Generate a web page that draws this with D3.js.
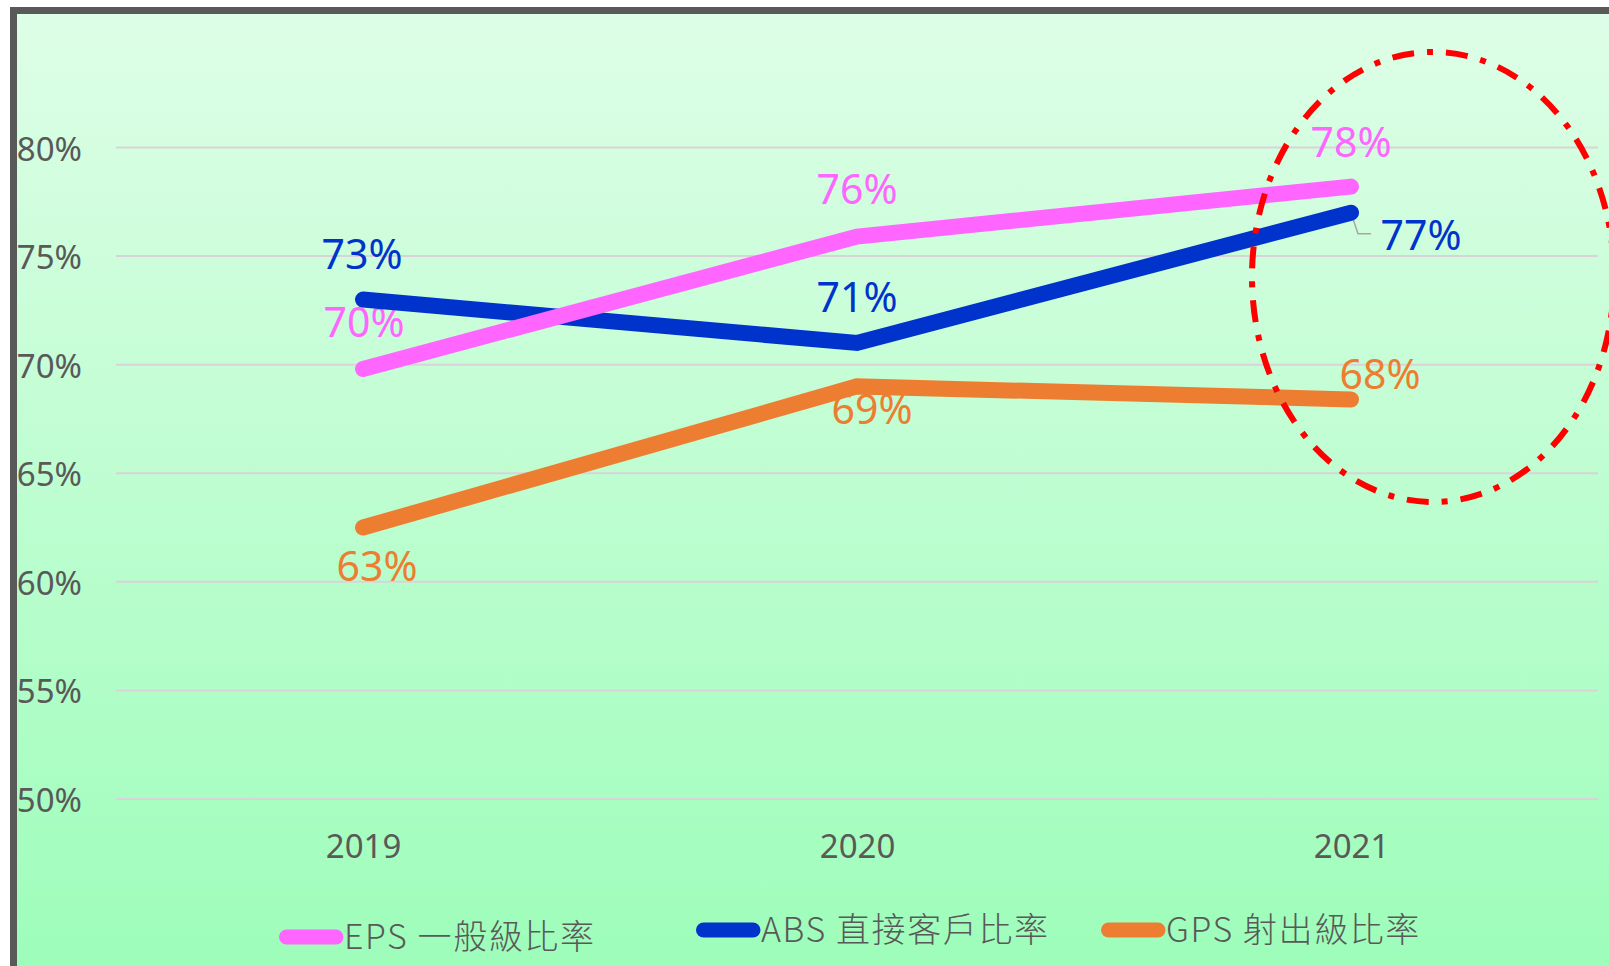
<!DOCTYPE html>
<html>
<head>
<meta charset="utf-8">
<script src="https://cdn.jsdelivr.net/npm/d3@7"></script>
<style>
  body { margin: 0; background: #ffffff; }
  svg { display: block; }
</style>
</head>
<body>
<svg id="chart" width="1609" height="966"></svg>
<script>
// chart data
const years = ["2019", "2020", "2021"];
const seriesNames = ["EPS 一般級比率", "ABS 直接客戶比率", "GPS 射出級比率"];
const epsValues = [69.8, 75.9, 78.2];
const absValues = [73.0, 71.0, 77.0];
const gpsValues = [62.5, 69.0, 68.4];
const epsLabels = ["70%", "76%", "78%"];
const absLabels = ["73%", "71%", "77%"];
const gpsLabels = ["63%", "69%", "68%"];
const yTicks = [50, 55, 60, 65, 70, 75, 80];

const colors = { eps: "#ff66ff", abs: "#0033cc", gps: "#ed7d31" };

const svg = d3.select("#chart");

// background gradient
const defs = svg.append("defs");
const grad = defs.append("linearGradient")
    .attr("id", "bg")
    .attr("x1", 0).attr("y1", 0).attr("x2", 0).attr("y2", 1);
grad.append("stop").attr("offset", "0%").attr("stop-color", "#defee7");
grad.append("stop").attr("offset", "100%").attr("stop-color", "#9cfdb9");

// frame (runs off the right and bottom edges like the reference)
svg.append("rect")
    .attr("x", 13.5).attr("y", 10.5)
    .attr("width", 1620).attr("height", 980)
    .attr("fill", "url(#bg)")
    .attr("stroke", "#595959")
    .attr("stroke-width", 7);

// scales
const x = d3.scalePoint()
    .domain(years)
    .range([116, 1598])
    .padding(0.5);

const y = d3.scaleLinear()
    .domain([50, 80])
    .range([799, 147.5]);

// gridlines
svg.append("g")
    .selectAll("line")
    .data(yTicks)
    .enter()
    .append("line")
    .attr("x1", 116)
    .attr("x2", 1598)
    .attr("y1", d => y(d))
    .attr("y2", d => y(d))
    .attr("stroke", "#d9d3d9")
    .attr("stroke-width", 2);

// y axis
const yAxis = d3.axisLeft(y)
    .tickValues(yTicks)
    .tickFormat(d => d + "%")
    .tickSize(0)
    .tickPadding(0);

const yG = svg.append("g")
    .attr("transform", "translate(82, 0)")
    .call(yAxis);
yG.select(".domain").remove();
yG.selectAll("text")
    .style("font-family", "'Noto Sans', sans-serif")
    .style("font-size", "33px")
    .style("fill", "#595959")
    .attr("dy", "0.38em");

// x axis
const xAxis = d3.axisBottom(x)
    .tickSize(0)
    .tickPadding(0);

const xG = svg.append("g")
    .attr("transform", "translate(0, 835)")
    .call(xAxis);
xG.select(".domain").remove();
xG.selectAll("text")
    .style("font-family", "'Noto Sans', sans-serif")
    .style("font-size", "33px")
    .style("fill", "#595959");

// series, drawn in the reference's stacking order
const series = [
    { key: "abs", values: absValues, labels: absLabels,
      offsets: [[-1, -31], [0, -30.5], [70, 37]] },
    { key: "eps", values: epsValues, labels: epsLabels,
      offsets: [[1, -32], [0, -32.5], [0, -30]] },
    { key: "gps", values: gpsValues, labels: gpsLabels,
      offsets: [[14, 53], [15, 37.5], [29, -10]] }
];

// data labels go under the lines (the 69% label is overlapped by its line)
series.forEach(s => {
    svg.append("g")
        .selectAll("text")
        .data(s.values)
        .enter()
        .append("text")
        .attr("x", (d, i) => x(years[i]) + s.offsets[i][0])
        .attr("y", (d, i) => y(d) + s.offsets[i][1])
        .attr("text-anchor", "middle")
        .style("font-family", "'Noto Sans', sans-serif")
        .style("font-size", "41px")
        .style("fill", colors[s.key])
        .text((d, i) => s.labels[i]);
});

// leader line for the 77% label
const absLast = [x(years[2]), y(absValues[2])];
svg.append("path")
    .attr("d", `M${absLast[0]},${absLast[1]} L${absLast[0] + 7},${absLast[1] + 21} L${absLast[0] + 20},${absLast[1] + 21}`)
    .attr("fill", "none")
    .attr("stroke", "#a6a6a6")
    .attr("stroke-width", 1.5);

const line = d3.line()
    .x((d, i) => x(years[i]))
    .y(d => y(d));

series.forEach(s => {
    svg.append("path")
        .datum(s.values)
        .attr("d", line)
        .attr("fill", "none")
        .attr("stroke", colors[s.key])
        .attr("stroke-width", 16)
        .attr("stroke-linecap", "round")
        .attr("stroke-linejoin", "miter");
});

// legend
const legendItems = [
    { key: "eps", name: seriesNames[0], x: 279, y: 937 },
    { key: "abs", name: seriesNames[1], x: 696, y: 930 },
    { key: "gps", name: seriesNames[2], x: 1101, y: 930 }
];

const legend = svg.append("g");
legendItems.forEach(item => {
    legend.append("line")
        .attr("x1", item.x + 7.5)
        .attr("x2", item.x + 57)
        .attr("y1", item.y)
        .attr("y2", item.y)
        .attr("stroke", colors[item.key])
        .attr("stroke-width", 15)
        .attr("stroke-linecap", "round");
    legend.append("text")
        .attr("x", item.x + 65)
        .attr("y", item.y + 12)
        .style("font-family", "'Noto Sans CJK TC', 'Noto Sans', sans-serif")
        .style("font-size", "34px")
        .style("font-weight", 300)
        .style("letter-spacing", "1.6px")
        .style("fill", "#595959")
        .text(item.name);
});

// red dash-dot highlight ellipse around 2021
svg.append("ellipse")
    .attr("cx", 1433)
    .attr("cy", 277)
    .attr("rx", 181)
    .attr("ry", 225)
    .attr("fill", "none")
    .attr("stroke", "#ff0000")
    .attr("stroke-width", 6)
    .attr("stroke-dasharray", "22,13,6,13");
</script>
</body>
</html>
